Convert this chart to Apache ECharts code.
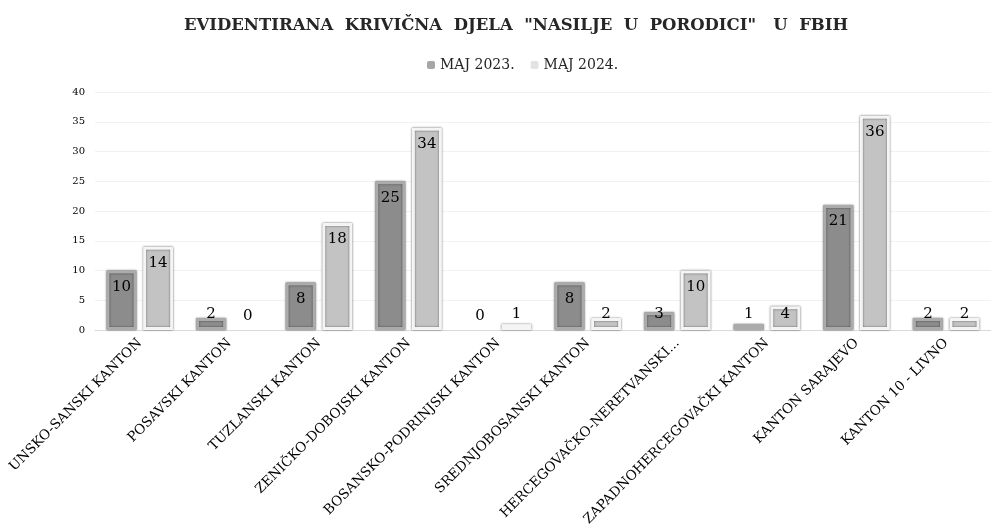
<!DOCTYPE html>
<html>
<head>
<meta charset="utf-8">
<script src="https://cdn.jsdelivr.net/npm/echarts@6/dist/echarts.min.js"></script>
<style>
html, body { margin: 0; padding: 0; background: #fff; }
#main { width: 991px; height: 531px; }
</style>
</head>
<body>
<div id="main"></div>
<script>
var categories = ["UNSKO-SANSKI KANTON", "POSAVSKI KANTON", "TUZLANSKI KANTON", "ZENIČKO-DOBOJSKI KANTON",
    "BOSANSKO-PODRINJSKI KANTON", "SREDNJOBOSANSKI KANTON", "HERCEGOVAČKO-NERETVANSKI...",
    "ZAPADNOHERCEGOVAČKI KANTON", "KANTON SARAJEVO", "KANTON 10 - LIVNO"];
var maj2023 = [10, 2, 8, 25, 0, 8, 3, 1, 21, 2];
var maj2024 = [14, 0, 18, 34, 1, 2, 10, 4, 36, 2];
var seriesNames = ["MAJ 2023.", "MAJ 2024."];

var serif = "DejaVu Serif";

// short bars get their label lifted to a fixed spot near the base (like excel does)
function toData(values){
    return values.map(function(v){
        if (v == 0) {
            return { value: v, label: { position: 'insideBottom', distance: 8 },
                itemStyle: { color: 'transparent', borderColor: 'transparent', shadowColor: 'transparent' } };
        }
        if (v < 6) {
            return { value: v, label: { position: 'insideBottom', distance: 8 } };
        }
        return v;
    });
}

var myChart = echarts.init(document.getElementById('main'));
var option = {
    backgroundColor: '#fff',
    title: {
        text: 'EVIDENTIRANA  KRIVIČNA  DJELA  "NASILJE  U  PORODICI"   U  FBIH',
        left: 511,
        textAlign: 'center',
        top: 12,
        textStyle: { fontFamily: serif, fontWeight: 'bold', fontSize: 16.5, color: '#262626' }
    },
    legend: {
        top: 53,
        left: 422,
        itemWidth: 8,
        itemHeight: 8,
        itemGap: 16,
        textStyle: { fontFamily: serif, fontSize: 14, color: '#262626' },
        data: [
            { name: seriesNames[0], itemStyle: { color: '#a6a6a6', borderWidth: 0 } },
            { name: seriesNames[1], itemStyle: { color: '#e2e2e2', borderWidth: 0 } }
        ]
    },
    grid: { left: 95, right: -17, top: 92, bottom: 201, containLabel: false },
    xAxis: {
        type: 'category',
        data: categories,
        axisLine: { lineStyle: { color: '#d9d9d9' } },
        axisTick: { show: false },
        axisLabel: { rotate: 45, interval: 0, margin: 11, fontFamily: serif, fontSize: 13.5, color: '#000' }
    },
    yAxis: {
        type: 'value',
        min: 0,
        max: 40,
        interval: 5,
        axisLine: { show: false },
        axisTick: { show: false },
        splitLine: { lineStyle: { color: '#f2f2f2' } },
        axisLabel: { fontFamily: serif, fontSize: 10, color: '#000', margin: 10 }
    },
    series: [{
        name: seriesNames[0],
        type: 'bar',
        data: toData(maj2023),
        barWidth: 30,
        barGap: '22%',
        itemStyle: {
            color: '#8c8c8c',
            borderColor: '#ababab',
            borderWidth: 3,
            shadowColor: 'rgba(0,0,0,0.6)',
            shadowBlur: 2
        },
        label: {
            show: true,
            position: 'insideTop',
            distance: 9,
            fontFamily: serif,
            fontSize: 15,
            color: '#000'
        }
    }, {
        name: seriesNames[1],
        type: 'bar',
        data: toData(maj2024),
        barWidth: 30,
        itemStyle: {
            color: '#c3c3c3',
            borderColor: '#f4f4f4',
            borderWidth: 3,
            shadowColor: 'rgba(0,0,0,0.6)',
            shadowBlur: 2
        },
        label: {
            show: true,
            position: 'insideTop',
            distance: 9,
            fontFamily: serif,
            fontSize: 15,
            color: '#000'
        }
    }]
};
myChart.setOption(option);
</script>
</body>
</html>
